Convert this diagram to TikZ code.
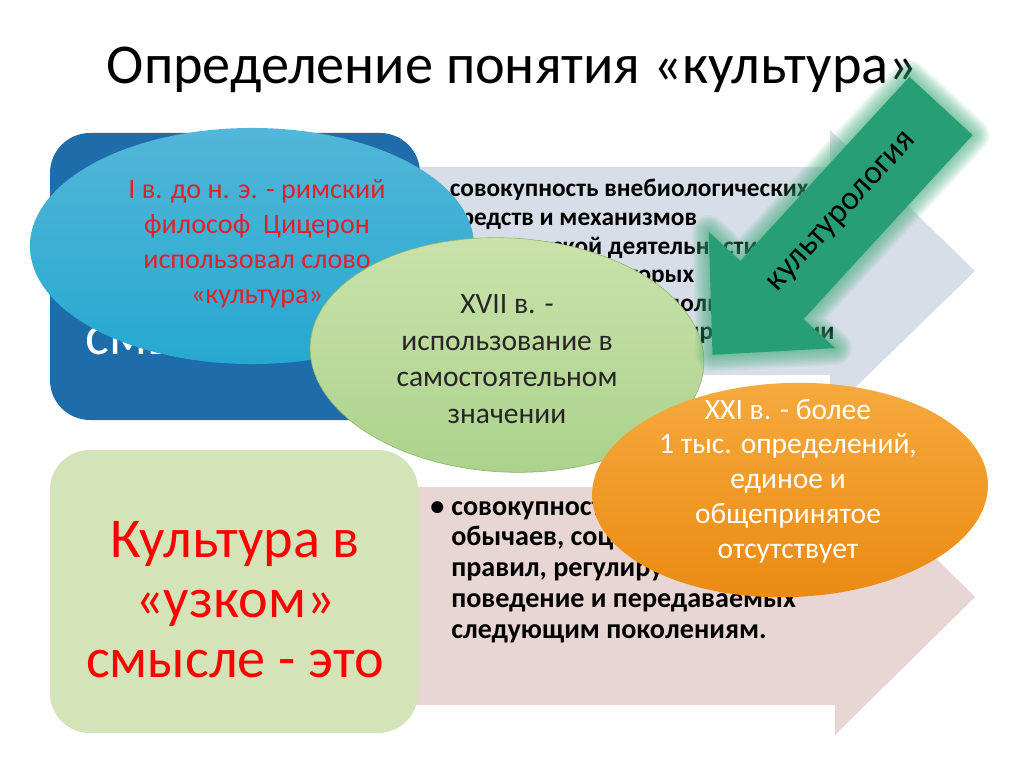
\documentclass[tikz,border=0pt]{standalone}
\usepackage{fontspec}
\setmainfont{Carlito}
\usetikzlibrary{shapes.geometric}

\definecolor{boxblue}{RGB}{31,108,171}
\definecolor{boxgreen}{RGB}{211,229,184}
\definecolor{arrowgrey}{RGB}{216,222,232}
\definecolor{arrowpink}{RGB}{232,214,212}
\definecolor{ellblue}{RGB}{38,168,208}
\definecolor{ellbluetop}{RGB}{82,182,216}
\definecolor{ellgreen}{RGB}{172,210,140}
\definecolor{ellgreentop}{RGB}{202,227,172}
\definecolor{ellgreenline}{RGB}{140,180,100}
\definecolor{ellorange}{RGB}{234,138,18}
\definecolor{ellorangetop}{RGB}{246,170,62}
\definecolor{arrowteal}{RGB}{40,158,118}
\definecolor{glowteal}{RGB}{60,172,120}
\definecolor{textred}{RGB}{226,32,42}

\begin{document}
\begin{tikzpicture}[x=0.025cm, y=-0.025cm,
    oval/.style={ellipse, inner sep=0pt},
    ovaltext/.style={align=center, inner sep=0pt},
    listtext/.style={anchor=base west, inner sep=0pt, align=left}]
  \useasboundingbox (0,0) rectangle (1024,767);
  \fill[white] (0,0) rectangle (1024,767);

  % title
  \node (title) [font=\fontsize{40}{46}\selectfont] at (512,70) {Определение понятия «культура»};

  % the two wide arrows
  \fill[arrowgrey] (420,167) -- (830,167) -- (830,130) -- (975,271)
    -- (830,412) -- (830,375) -- (420,375) -- cycle;
  \fill[arrowpink] (415,487) -- (835,487) -- (835,459) -- (975,597)
    -- (835,735) -- (835,705) -- (415,705) -- cycle;

  \node (widedef) [listtext, font=\bfseries\fontsize{18}{20.3}\selectfont] at (430,197) {%
    \begin{tabular}[t]{@{}l@{\hspace{5pt}}l@{}}
      • & совокупность внебиологических\\
        & средств и механизмов\\
        & человеческой деятельности,\\
        & и с помощью которых\\
        & человечеством и используемые\\
        & поколениями людей при развитии
    \end{tabular}};
  \node (narrowdef) [listtext, font=\bfseries\fontsize{20}{22}\selectfont] at (430,515) {%
    \begin{tabular}[t]{@{}l@{\hspace{5pt}}l@{}}
      • & совокупность норм,\\
        & обычаев, социальных\\
        & правил, регулирующих\\
        & поведение и передаваемых\\
        & следующим поколениям.
    \end{tabular}};

  % the two boxes on the left
  \fill[boxblue, rounded corners=1cm] (50,133) rectangle (420,420);
  \node (widehead) [text=white, anchor=base west, inner sep=0pt,
    font=\fontsize{40}{43}\selectfont] at (85,354) {смысле - это};
  \fill[boxgreen, rounded corners=1cm] (50,450) rectangle (418,733);
  \node (narrowhead) [ovaltext, text=red, font=\fontsize{40}{42.7}\selectfont] at (235,600)
    {Культура в\\«узком»\\смысле - это};

  % ovals
  \node (cicero) [oval, minimum width=11.1cm, minimum height=5.9cm,
    top color=ellbluetop, bottom color=ellblue] at (252,246) {};
  \node (cicerotext) [ovaltext, text=textred, font=\fontsize{20}{25}\selectfont] at (257,244)
    {I в. до н. э. - римский\\философ\ \ Цицерон\\использовал слово\\«культура»};

  \node (xvii) [oval, minimum width=9.85cm, minimum height=5.85cm, rotate=-3,
    top color=ellgreentop, bottom color=ellgreen, draw=ellgreenline] at (507,355) {};
  \node (xviitext) [ovaltext, text=black!85, font=\fontsize{21}{26}\selectfont] at (507,359)
    {XVII в. -\\использование в\\самостоятельном\\значении};

  % culturology arrow
  \coordinate (k1) at (909.4,76.9);
  \coordinate (k2) at (972.6,135.1);
  \coordinate (k3) at (803.6,319.1);
  \coordinate (k4) at (835.3,348.1);
  \coordinate (k5) at (712.5,354.8);
  \coordinate (k6) at (708.7,231.9);
  \coordinate (k7) at (740.4,260.9);
  \foreach \w in {2,4,...,24}
    \draw[glowteal, opacity=0.07, line width=\w pt, line join=round]
      (k1) -- (k2) -- (k3) -- (k4) -- (k5) -- (k6) -- (k7) -- cycle;
  \fill[arrowteal] (k1) -- (k2) -- (k3) -- (k4) -- (k5) -- (k6) -- (k7) -- cycle;
  \node (kultlabel) [rotate=47.4, font=\fontsize{24}{24}\selectfont] at (843,213) {культурология};

  \node (xxi) [oval, minimum width=9.9cm, minimum height=5.35cm, rotate=2,
    top color=ellorangetop, bottom color=ellorange] at (790,490) {};
  \node (xxitext) [ovaltext, text=white, font=\fontsize{21}{24.7}\selectfont] at (788,481)
    {XXI в. - более\\1 тыс. определений,\\единое и\\общепринятое\\отсутствует};
\end{tikzpicture}
\end{document}
